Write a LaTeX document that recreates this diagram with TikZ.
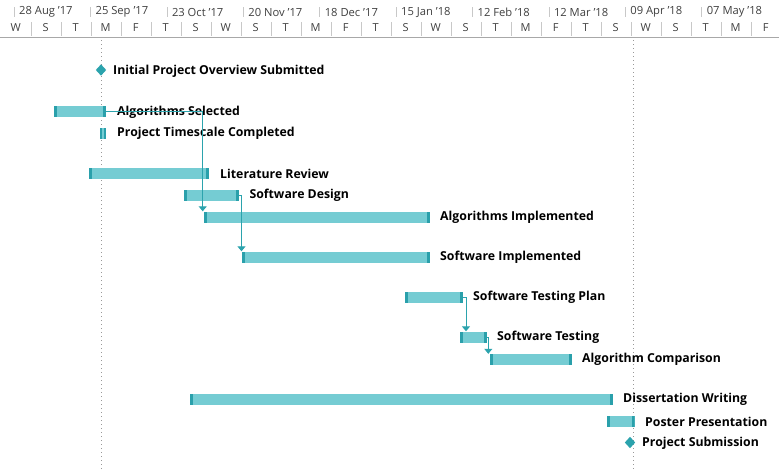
\documentclass[tikz,border=0pt]{standalone}
\usepackage{fontspec}
\setmainfont{Open Sans}
\usetikzlibrary{arrows.meta,shapes.geometric}
\definecolor{barfill}{HTML}{75CCD3}
\definecolor{barcap}{HTML}{2AA0AB}
\definecolor{conncol}{HTML}{2BA3AD}
\definecolor{hdrtext}{HTML}{404040}
\definecolor{hdrline}{HTML}{C8C8C8}
\definecolor{hdrborder}{HTML}{A8A8A8}
\tikzset{
  gbar/.style={draw=none, fill=barfill, minimum height=11pt, inner sep=0pt, anchor=west,
    path picture={
      \fill[barcap] (path picture bounding box.south west) rectangle ([xshift=3pt]path picture bounding box.north west);
      \fill[barcap] ([xshift=-3pt]path picture bounding box.south east) rectangle (path picture bounding box.north east);}},
  lab/.style={anchor=west, inner sep=0pt, yshift=-2pt, font=\fontsize{12.3}{14}\selectfont\bfseries, text=black},
  mile/.style={diamond, fill=conncol, draw=none, inner sep=0pt, minimum width=10.5pt, minimum height=11.5pt},
  conn/.style={draw=conncol, line width=1pt, -{Triangle[width=8pt,length=5pt]}},
  datelab/.style={anchor=west, inner sep=0pt, font=\fontsize{11.2}{13}\selectfont, text=hdrtext},
  daylab/.style={inner sep=0pt, font=\fontsize{11}{13}\selectfont, text=hdrtext},
  today/.style={draw=gray!80, line width=0.8pt, dash pattern=on 1pt off 3pt},
}
\begin{document}
\begin{tikzpicture}[x=1pt,y=-1pt]
\useasboundingbox (0,0) rectangle (779,471);
\fill[white] (0,0) rectangle (779,471);
% header
\foreach \d [count=\k from 0] in {28 Aug '17,25 Sep '17,23 Oct '17,20 Nov '17,18 Dec '17,15 Jan '18,12 Feb '18,12 Mar '18,09 Apr '18,07 May '18}{
  \draw[hdrline] ({14+76.4*\k},7) -- ({14+76.4*\k},17);
  \node[datelab] (d\k) at ({19+76.4*\k},12) {\d};
}
\foreach \l [count=\k from 0] in {W,S,T,M,F,T,S,W,S,T,M,F,T,S,W,S,T,M,F,T,S,W,S,T,M,F}{
  \node[daylab] (w\k) at ({15.7+30*\k},28) {\l};
}
\foreach \k in {1,...,25}{
  \draw[hdrline] ({0.7+30*\k},22) -- ({0.7+30*\k},36);
}
\draw[hdrborder] (0,37) -- (779,37);
% dotted lines
\draw[today] (101,40) -- (101,471);
\draw[today] (633,40) -- (633,471);
% milestones
\node[mile] (ipos) at (101,70) {};
\node[lab] (iposl) at (113,69) {Initial Project Overview Submitted};
\node[mile] (ps) at (630,442.5) {};
\node[lab] (psl) at (642,441.7) {Project Submission};
% bars
\node[gbar, minimum width=52pt] (as) at (54,111.5) {};
\node[lab] (asl) at (117,110) {Algorithms Selected};
\node[gbar, minimum width=6pt, path picture={
      \fill[barcap] (path picture bounding box.south west) rectangle ([xshift=2pt]path picture bounding box.north west);
      \fill[barcap] ([xshift=-2pt]path picture bounding box.south east) rectangle (path picture bounding box.north east);}] (ptc) at (100,133) {};
\node[lab] (ptcl) at (117,131.5) {Project Timescale Completed};
\node[gbar, minimum width=120pt] (lr) at (89,173) {};
\node[lab] (lrl) at (220,171.7) {Literature Review};
\node[gbar, minimum width=55pt] (sd) at (184,195.3) {};
\node[lab] (sdl) at (249.3,193.5) {Software Design};
\node[gbar, minimum width=226pt] (ai) at (204,217) {};
\node[lab] (ail) at (440,215.3) {Algorithms Implemented};
\node[gbar, minimum width=188pt] (si) at (242,257) {};
\node[lab] (sil) at (440,255.3) {Software Implemented};
\node[gbar, minimum width=58pt] (stp) at (405,297) {};
\node[lab] (stpl) at (473,295.5) {Software Testing Plan};
\node[gbar, minimum width=27pt] (st) at (460,337) {};
\node[lab] (stl) at (497,335.3) {Software Testing};
\node[gbar, minimum width=82pt] (ac) at (490,359.5) {};
\node[lab] (acl) at (582,357.5) {Algorithm Comparison};
\node[gbar, minimum width=423pt] (dw) at (190,399.5) {};
\node[lab] (dwl) at (623,397.3) {Dissertation Writing};
\node[gbar, minimum width=27.5pt] (pp) at (607,421) {};
\node[lab] (ppl) at (645,419.5) {Poster Presentation};
% connectors
\draw[conn] (as.east) -| ([xshift=-1.3pt]ai.north west);
\draw[conn] (sd.east) -| ([xshift=-0.5pt]si.north west);
\draw[conn] (stp.east) -| ([xshift=6pt]st.north west);
\draw[conn] (st.east) -| ([xshift=-1.7pt]ac.north west);
\end{tikzpicture}
\end{document}
